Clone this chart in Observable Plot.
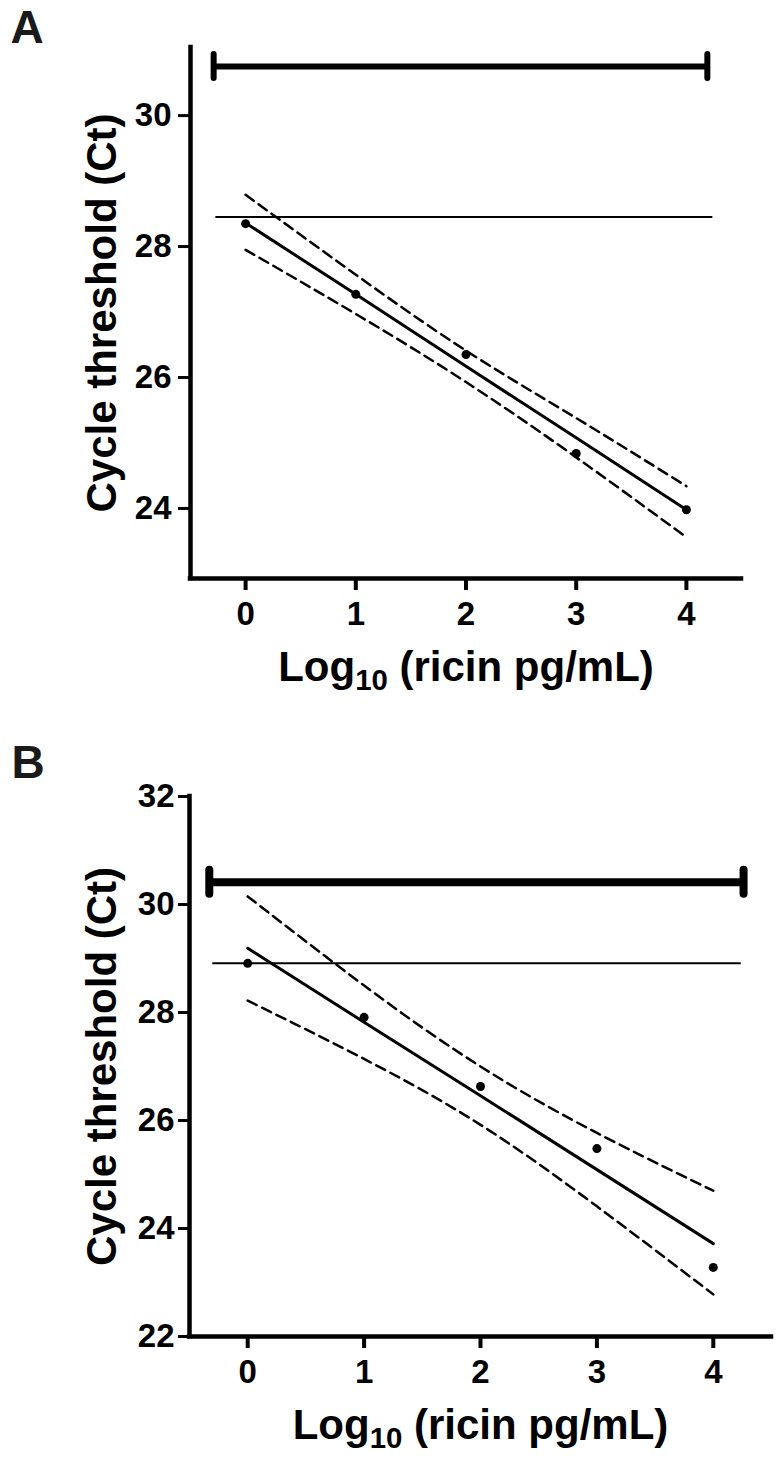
<!DOCTYPE html>
<html>
<head>
<meta charset="utf-8">
<script src="https://cdn.jsdelivr.net/npm/d3@7"></script>
<script src="https://cdn.jsdelivr.net/npm/@observablehq/plot@0.6"></script>
<style>
  html, body { margin: 0; padding: 0; background: #fff; }
  #chart svg { display: block; }
</style>
</head>
<body>
<div id="chart"></div>
<script>
// ---------- data ----------
const xTicks = [0, 1, 2, 3, 4];
const concentration = [0, 1, 2, 3, 4];

// Panel A
const ctA = [28.35, 27.27, 26.35, 24.84, 23.98];
const fitA = [28.36, 27.27, 26.17, 25.08, 23.98];
const upperA = [28.79, 27.57, 26.41, 25.38, 24.34];
const lowerA = [27.95, 26.97, 25.93, 24.78, 23.56];
const rangeBarA = [{y: 30.75, x1: -0.29, x2: 4.19}];
const thresholdA = [{y: 28.45, x1: -0.27, x2: 4.24}];
const yTicksA = [24, 26, 28, 30];
const yDomainA = [22.93, 31.04];

// Panel B
const ctB = [28.91, 27.91, 26.63, 25.48, 23.28];
const fitB = [29.19, 27.82, 26.46, 25.09, 23.72];
const upperB = [30.15, 28.50, 27.00, 25.77, 24.70];
const lowerB = [28.22, 27.14, 25.92, 24.41, 22.78];
const rangeBarB = [{y: 30.41, x1: -0.33, x2: 4.26}];
const thresholdB = [{y: 28.91, x1: -0.30, x2: 4.24}];
const yTicksB = [22, 24, 26, 28, 30, 32];
const yDomainB = [22, 32];

const xDomain = [-0.5, 4.5];
const yTitle = "Cycle threshold (Ct)";
const xTitle = "Log10 (ricin pg/mL)";

const FONT = "'Liberation Sans', Arial, Helvetica, sans-serif";

function panel(cfg) {
  const pts = concentration.map((x, i) => ({
    x, ct: cfg.ct[i], fit: cfg.fit[i], up: cfg.upper[i], lo: cfg.lower[i]
  }));
  const svg = Plot.plot({
    width: 779,
    height: 729,
    marginLeft: cfg.ml,
    marginRight: cfg.mr,
    marginTop: cfg.mt,
    marginBottom: cfg.mb,
    x: {domain: xDomain},
    y: {domain: cfg.yDomain},
    style: {fontFamily: FONT, color: "#000", background: "#fff", overflow: "visible"},
    marks: [
      // axis lines
      Plot.ruleX([xDomain[0]], {stroke: "#000", strokeWidth: 4.5, strokeLinecap: "square"}),
      Plot.ruleY([cfg.yDomain[0]], {stroke: "#000", strokeWidth: 4.5, strokeLinecap: "square"}),
      Plot.axisY({
        ticks: cfg.yTicks, tickSize: cfg.yts, tickPadding: cfg.ytp,
        fontSize: 33, fontWeight: "bold", strokeWidth: 3, label: null,
        tickFormat: d => String(d)
      }),
      Plot.axisX({
        ticks: xTicks, tickSize: 12, tickPadding: 11,
        fontSize: 33, fontWeight: "bold", strokeWidth: 4, label: null,
        tickFormat: d => String(d)
      }),
      // range bar with caps
      Plot.ruleY(cfg.bar, {y: "y", x1: "x1", x2: "x2", stroke: "#000", strokeWidth: cfg.barW}),
      Plot.ruleX(cfg.bar, {x: "x1", y1: "y", y2: "y", insetTop: -12, insetBottom: -12,
        stroke: "#000", strokeWidth: cfg.barW, strokeLinecap: "round"}),
      Plot.ruleX(cfg.bar, {x: "x2", y1: "y", y2: "y", insetTop: -12, insetBottom: -12,
        stroke: "#000", strokeWidth: cfg.barW, strokeLinecap: "round"}),
      // threshold line
      Plot.ruleY(cfg.thr, {y: "y", x1: "x1", x2: "x2", stroke: "#000", strokeWidth: 2}),
      // confidence bands
      Plot.line(pts, {x: "x", y: "up", curve: "natural", stroke: "#000", strokeWidth: 2.5, strokeDasharray: "10,6"}),
      Plot.line(pts, {x: "x", y: "lo", curve: "natural", stroke: "#000", strokeWidth: 2.5, strokeDasharray: "10,6"}),
      // regression line
      Plot.line(pts, {x: "x", y: "fit", stroke: "#000", strokeWidth: 3}),
      // points
      Plot.dot(pts, {x: "x", y: "ct", r: 4.5, fill: "#000", stroke: "none"}),
      // titles
      Plot.text([yTitle], {text: d => d, frameAnchor: "left", textAnchor: "middle", rotate: -90, dx: cfg.ytdx,
        fontSize: 42, fontWeight: "bold", fill: "#000"}),
      Plot.text([xTitle], {text: d => d, frameAnchor: "bottom", textAnchor: "middle", lineAnchor: "top", dy: 73,
        fontSize: 42, fontWeight: "bold", fill: "#000"}),
      Plot.text([cfg.letter], {text: d => d, frameAnchor: "top-left", textAnchor: "start", lineAnchor: "top",
        dx: cfg.ldx, dy: cfg.ldy, fontSize: 46, fontWeight: "bold", fill: "#1a1a1a"})
    ]
  });
  // subscript in x title
  d3.select(svg).selectAll("text").filter(function() { return this.textContent === xTitle; })
    .each(function() {
      const t = d3.select(this);
      t.text(null);
      t.append("tspan").text("Log");
      t.append("tspan").attr("font-size", "70%").attr("dy", "0.3em").text("10");
      t.append("tspan").attr("dy", "-0.21em").text(" (ricin pg/mL)");
    });
  return svg;
}

const chart = document.getElementById("chart");
chart.appendChild(panel({
  ct: ctA, fit: fitA, upper: upperA, lower: lowerA, bar: rangeBarA, thr: thresholdA,
  yTicks: yTicksA, yDomain: yDomainA, ml: 190, mr: 38, mt: 47, mb: 151,
  yts: 12, ytp: 7, ytdx: -88, barW: 6, letter: "A", ldx: -180, ldy: -37
}));
chart.appendChild(panel({
  ct: ctB, fit: fitB, upper: upperB, lower: lowerB, bar: rangeBarB, thr: thresholdB,
  yTicks: yTicksB, yDomain: yDomainB, ml: 189, mr: 8, mt: 67, mb: 122,
  yts: 11, ytp: 4, ytdx: -87, barW: 8, letter: "B", ldx: -178, ldy: -51
}));
</script>
</body>
</html>
